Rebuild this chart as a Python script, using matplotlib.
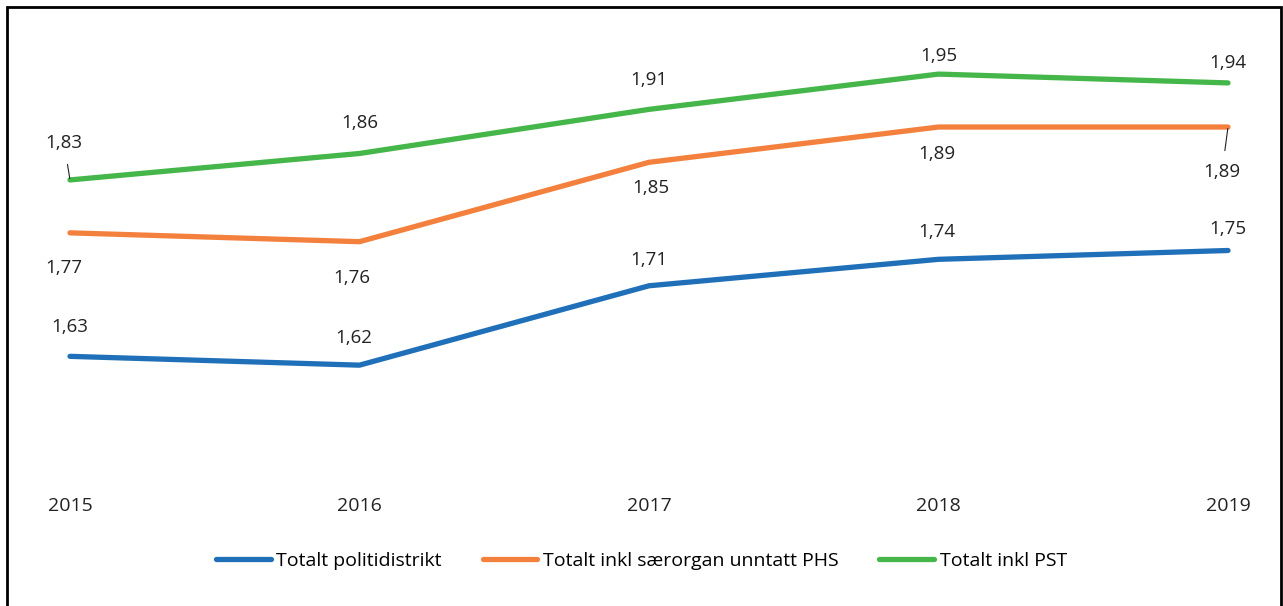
import matplotlib.pyplot as plt
from matplotlib.patches import Rectangle

plt.rcParams['font.family'] = ['Open Sans', 'DejaVu Sans']

years = ["2015", "2016", "2017", "2018", "2019"]
politidistrikt = [1.63, 1.62, 1.71, 1.74, 1.75]
inkl_saerorgan = [1.77, 1.76, 1.85, 1.89, 1.89]
inkl_pst = [1.83, 1.86, 1.91, 1.95, 1.94]

series_names = ["Totalt politidistrikt",
                "Totalt inkl særorgan unntatt PHS",
                "Totalt inkl PST"]
colors = ["#1f70b8", "#f4803d", "#45b64a"]

# label offsets in pixels (dx, dy) relative to each point
offsets = [
    [(0, 29), (-6, 27), (0, 26), (-2, 27), (0, 22)],
    [(-6, -35), (-8, -36), (2, -26), (-2, -27), (-6, -45)],
    [(-6, 37), (0, 30), (0, 29), (0, 18), (0, 20)],
]
leader = {(2, 0), (1, 4)}

W, H = 1283, 606
fig = plt.figure(figsize=(W / 100, H / 100), dpi=100)
ax = fig.add_axes([70 / W, 1 - 471 / H, (1228 - 70) / W, (471 - 30) / H])

x = list(range(len(years)))
all_series = [politidistrikt, inkl_saerorgan, inkl_pst]
for i, (vals, name, c) in enumerate(zip(all_series, series_names, colors)):
    ax.plot(x, vals, color=c, lw=3.8, solid_capstyle='round',
            solid_joinstyle='round', label=name, clip_on=False)
    for j, v in enumerate(vals):
        dx, dy = offsets[i][j]
        txt = f"{v:.2f}".replace(".", ",")
        if (i, j) in leader:
            ax.annotate(txt, (j, v), xytext=(dx, dy), textcoords='offset pixels',
                        ha='center', va='center', fontsize=13.5, color='#222222',
                        arrowprops=dict(arrowstyle='-', color='#222222', lw=0.8,
                                        shrinkA=7, shrinkB=1))
        else:
            ax.annotate(txt, (j, v), xytext=(dx, dy), textcoords='offset pixels',
                        ha='center', va='center', fontsize=13.5, color='#222222')

ax.set_xlim(0, len(years) - 1)
ax.set_ylim(1.5, 2.0)
ax.set_xticks(x)
ax.set_xticklabels(years, fontsize=14, color='#222222')
ax.set_yticks([])
ax.tick_params(axis='x', length=0, pad=19)
for s in ax.spines.values():
    s.set_visible(False)

fig.legend(loc='center', bbox_to_anchor=(0.5, 1 - 561 / H), ncol=3,
           frameon=False, fontsize=14, handlelength=2.8, handletextpad=0.3,
           columnspacing=2.1)

fig.patches.append(Rectangle((7 / W, -0.05), (1281 - 7) / W, 1 - 7 / H + 0.05,
                             transform=fig.transFigure, fill=False,
                             edgecolor='black', lw=2))

fig.savefig("out.png", dpi=100)
